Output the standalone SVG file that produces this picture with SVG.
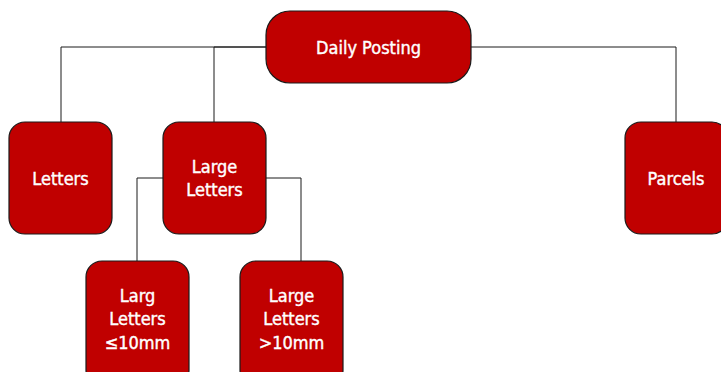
<svg xmlns="http://www.w3.org/2000/svg" width="721" height="372" viewBox="0 0 721 372">
<style>
.n{fill:#c00000;stroke:#1a1a1a;stroke-width:1.2}
.t{fill:#fff;stroke:#fff;stroke-width:0.4;font-family:"DejaVu Sans Condensed","DejaVu Sans",sans-serif;font-size:18px;text-anchor:middle;dominant-baseline:central}
.c{fill:none;stroke:#1a1a1a;stroke-width:1}
</style>
<g id="connectors">
<path class="c" d="M266 47H61V122"/>
<path class="c" d="M266 47H214V122"/>
<path class="c" d="M471 47H676V122"/>
<path class="c" d="M163 178H137V261"/>
<path class="c" d="M266 178H301V261"/>
</g>
<g id="daily-posting"><rect class="n" x="266" y="11" width="205" height="72" rx="24"/><text class="t" x="368.5" y="47">Daily Posting</text></g>
<g id="letters"><rect class="n" x="9" y="122" width="103" height="112" rx="16"/><text class="t" x="60.5" y="178">Letters</text></g>
<g id="large-letters"><rect class="n" x="163" y="122" width="103" height="112" rx="16"/><text class="t" x="214.5" y="166">Large</text><text class="t" x="214.5" y="189">Letters</text></g>
<g id="parcels"><rect class="n" x="625" y="122" width="103" height="112" rx="16"/><text class="t" x="676" y="178">Parcels</text></g>
<g id="larg-letters-le10"><rect class="n" x="86" y="261" width="103" height="125" rx="16"/><text class="t" x="137.5" y="295">Larg</text><text class="t" x="137.5" y="318">Letters</text><text class="t" x="137.5" y="342">≤10mm</text></g>
<g id="large-letters-gt10"><rect class="n" x="240" y="261" width="103" height="125" rx="16"/><text class="t" x="291.5" y="295">Large</text><text class="t" x="291.5" y="318">Letters</text><text class="t" x="291.5" y="342">&gt;10mm</text></g>
</svg>
